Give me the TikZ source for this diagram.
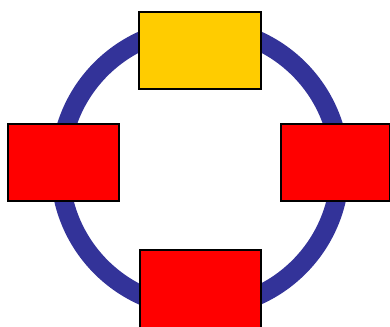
\documentclass[tikz,border=0pt]{standalone}
\begin{document}
\begin{tikzpicture}[x=1pt,y=-1pt,
  box/.style={draw=black,line width=1.6pt,inner sep=0pt,minimum height=77pt,anchor=north west},
  ring/.style={draw={rgb,255:red,51;green,51;blue,153},line width=19pt}]
\useasboundingbox (0,0) rectangle (390,326);
\fill[white] (0,0) rectangle (390,326);
\coordinate (c) at (200,168);
\draw[ring] (c) circle[radius=140pt];
\node[box,fill={rgb,255:red,255;green,204;blue,0},minimum width=122pt] (top) at (138,11) {};
\node[box,fill=red,minimum width=111pt] (left) at (7,123) {};
\node[box,fill=red,minimum width=109pt] (right) at (280,123) {};
\node[box,fill=red,minimum width=121pt,minimum height=79pt] (bottom) at (139,249) {};
\end{tikzpicture}
\end{document}
